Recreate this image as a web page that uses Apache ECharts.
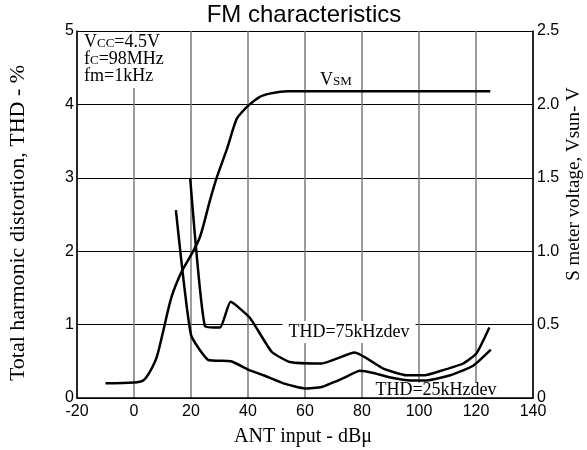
<!DOCTYPE html>
<html>
<head>
<meta charset="utf-8">
<script src="https://cdn.jsdelivr.net/npm/echarts@6/dist/echarts.min.js"></script>
<style>html,body{margin:0;padding:0;background:#fff;}#c{width:587px;height:450px;}</style>
</head>
<body>
<div id="c"></div>
<script>
// ANT input (dBµ) positions and values
var vsmX = [-10, 0, 3.3, 5.6, 8, 10.3, 13.2, 16.7, 20.2, 23.2, 26.7, 29, 32.5, 36, 38, 40, 44, 48, 54, 60, 80, 100, 125];
var vsmY = [0.10, 0.105, 0.12, 0.18, 0.28, 0.46, 0.69, 0.86, 0.98, 1.10, 1.35, 1.50, 1.69, 1.90, 1.95, 1.99, 2.05, 2.075, 2.09, 2.09, 2.09, 2.09, 2.09];

var thd75X = [19.7, 24.9, 30.2, 33.9, 40.7, 48.3, 54.7, 65.8, 77.5, 87.5, 95.6, 102, 108.5, 115.5, 120.2, 124.7];
var thd75Y = [3.0, 0.98, 0.96, 1.31, 1.09, 0.63, 0.49, 0.47, 0.62, 0.40, 0.31, 0.31, 0.38, 0.47, 0.61, 0.96];

var thd25X = [14.7, 20, 26, 34, 40.5, 45.4, 52.4, 60, 65.8, 73.4, 79.3, 84, 90, 97, 102.7, 111, 119, 125.2];
var thd25Y = [2.56, 0.86, 0.52, 0.50, 0.38, 0.31, 0.20, 0.13, 0.15, 0.27, 0.37, 0.34, 0.28, 0.24, 0.24, 0.31, 0.44, 0.66];

var xTicks = [-20, 0, 20, 40, 60, 80, 100, 120, 140];
var leftTicks = ['0', '1', '2', '3', '4', '5'];
var rightTicks = ['0', '0.5', '1.0', '1.5', '2.0', '2.5'];

function pairs(xs, ys) { return xs.map(function (x, i) { return [x, ys[i]]; }); }

var SERIF = '"Liberation Serif", "Times New Roman", serif';
var SANS = '"Liberation Sans", Arial, sans-serif';

var chart = echarts.init(document.getElementById('c'), null, { renderer: 'canvas' });
chart.setOption({
  animation: false,
  backgroundColor: '#fff',
  grid: { left: 77, right: 54, top: 31, bottom: 52, containLabel: false },
  xAxis: {
    type: 'value', min: xTicks[0], max: xTicks[xTicks.length - 1], interval: 20,
    axisLine: { show: true, onZero: false, lineStyle: { color: '#000', width: 1.5 } },
    axisTick: { show: false },
    axisLabel: { color: '#000', fontSize: 16, fontFamily: SANS, margin: 6 },
    splitLine: { show: true, lineStyle: { color: '#7a7a7a', width: 1.5 } }
  },
  yAxis: [{
    type: 'value', min: 0, max: 5, interval: 1, position: 'left',
    axisLine: { show: true, onZero: false, lineStyle: { color: '#000', width: 1.5 } },
    axisTick: { show: false },
    axisLabel: { color: '#000', fontSize: 16, fontFamily: SANS, margin: 3,
      formatter: function (v) { return leftTicks[Math.round(v)]; } },
    splitLine: { show: true, lineStyle: { color: '#000', width: 1 } }
  }, {
    type: 'value', min: 0, max: 2.5, interval: 0.5, position: 'right',
    axisLine: { show: true, onZero: false, lineStyle: { color: '#000', width: 1.5 } },
    axisTick: { show: false },
    axisLabel: { color: '#000', fontSize: 16, fontFamily: SANS, margin: 4,
      formatter: function (v) { return rightTicks[Math.round(v * 2)]; } },
    splitLine: { show: false }
  }],
  series: [{
    name: 'VSM', type: 'line', yAxisIndex: 1, data: pairs(vsmX, vsmY),
    showSymbol: false, smooth: 0.3,
    lineStyle: { color: '#000', width: 2.5 }
  }, {
    name: 'THD=75kHzdev', type: 'line', yAxisIndex: 0, data: pairs(thd75X, thd75Y),
    showSymbol: false, smooth: 0.15,
    lineStyle: { color: '#000', width: 2.5 }
  }, {
    name: 'THD=25kHzdev', type: 'line', yAxisIndex: 0, data: pairs(thd25X, thd25Y),
    showSymbol: false, smooth: 0.15,
    lineStyle: { color: '#000', width: 2.5 }
  }],
  graphic: [
    { type: 'text', x: 304, y: 3, z: 10,
      style: { text: 'FM characteristics', font: '24px ' + SANS, fill: '#000', align: 'center', verticalAlign: 'top' } },
    { type: 'text', x: 18, y: 223, rotation: Math.PI / 2, z: 10,
      style: { text: 'Total harmonic distortion, THD - %', font: '22px ' + SERIF, fill: '#000', align: 'center', verticalAlign: 'middle' } },
    { type: 'text', x: 574, y: 184, rotation: Math.PI / 2, z: 10,
      style: { text: 'S meter voltage, Vsun- V', font: '19px ' + SERIF, fill: '#000', align: 'center', verticalAlign: 'middle' } },
    { type: 'text', x: 303, y: 437, z: 10,
      style: { text: 'ANT input - dB\u03bc', font: '20px ' + SERIF, fill: '#000', align: 'center', verticalAlign: 'middle' } },
    { type: 'text', x: 80, y: 32, z: 1,
      style: {
        text: '{v|V}{s|CC}{v|=4.5V}\n{v|f}{s|C}{v|=98MHz}\n{v|fm=1kHz}',
        backgroundColor: '#fff', padding: [1, 4, 4, 4],
        rich: {
          v: { fontSize: 18, fontFamily: SERIF, lineHeight: 17, verticalAlign: 'top', fill: '#000' },
          s: { fontSize: 13, fontFamily: SERIF, lineHeight: 6, verticalAlign: 'bottom', fill: '#000' }
        }
      } },
    { type: 'text', x: 320, y: 71, z: 1,
      style: {
        text: '{v|V}{s|SM}',
        rich: {
          v: { fontSize: 18, fontFamily: SERIF, lineHeight: 17, verticalAlign: 'top', fill: '#000' },
          s: { fontSize: 13, fontFamily: SERIF, lineHeight: 10, verticalAlign: 'bottom', fill: '#000' }
        }
      } },
    { type: 'text', x: 349, y: 332, z: 1,
      style: { text: 'THD=75kHzdev', font: '18px ' + SERIF, fill: '#000', align: 'center', verticalAlign: 'middle',
        backgroundColor: '#fff', padding: [2, 6, 2, 6] } },
    { type: 'text', x: 436, y: 390, z: 1,
      style: { text: 'THD=25kHzdev', font: '18px ' + SERIF, lineHeight: 14, fill: '#000', align: 'center', verticalAlign: 'middle',
        backgroundColor: '#fff', padding: [0, 2, 0, 2] } }
  ]
});
</script>
</body>
</html>
